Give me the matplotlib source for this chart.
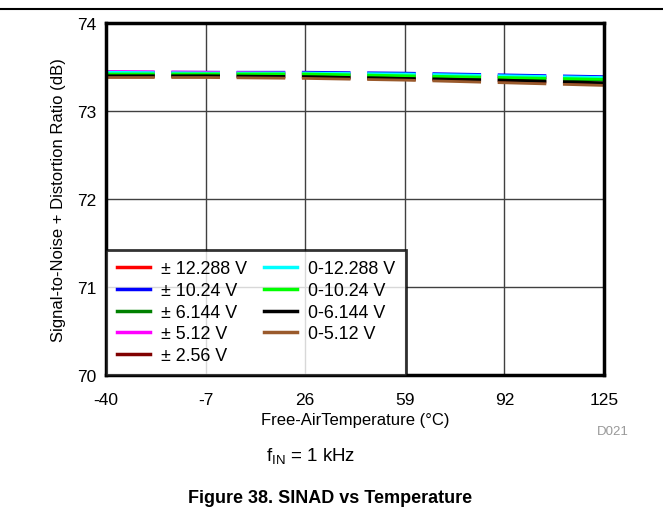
import matplotlib
matplotlib.use('Agg')
import matplotlib.pyplot as plt

plt.rcParams['font.family'] = ['Liberation Sans', 'DejaVu Sans']
plt.rcParams['lines.scale_dashes'] = False
plt.rcParams['axes.unicode_minus'] = False

# data
temps = [-40, -7, 26, 59, 92, 125]
labels = ['± 12.288 V', '± 10.24 V', '± 6.144 V', '± 5.12 V', '± 2.56 V',
          '0-12.288 V', '0-10.24 V', '0-6.144 V', '0-5.12 V']
colors = ['#FF0000', '#0000FF', '#008000', '#FF00FF', '#800000',
          '#00FFFF', '#00FF00', '#000000', '#9A5A2C']
bip_12288 = [73.43, 73.43, 73.42, 73.41, 73.39, 73.37]
bip_1024 = [73.44, 73.44, 73.44, 73.43, 73.41, 73.39]
bip_6144 = [73.42, 73.41, 73.41, 73.39, 73.37, 73.35]
bip_512 = [73.45, 73.44, 73.43, 73.41, 73.39, 73.37]
bip_256 = [73.39, 73.39, 73.38, 73.36, 73.34, 73.31]
uni_12288 = [73.44, 73.43, 73.43, 73.42, 73.40, 73.38]
uni_1024 = [73.42, 73.42, 73.42, 73.40, 73.38, 73.36]
uni_6144 = [73.40, 73.40, 73.39, 73.37, 73.35, 73.32]
uni_512 = [73.38, 73.38, 73.37, 73.35, 73.32, 73.29]
series = [bip_12288, bip_1024, bip_6144, bip_512, bip_256,
          uni_12288, uni_1024, uni_6144, uni_512]

fig = plt.figure(figsize=(6.63, 5.10), dpi=100)
ax = fig.add_axes([0.160, 0.263, 0.751, 0.690])

for vals, c, lab in zip(series, colors, labels):
    ax.plot(temps, vals, color=c, lw=2, dashes=(35, 12), label=lab)

ax.set_xlim(-40, 125)
ax.set_ylim(70, 74)
ax.set_xticks(temps)
ax.set_yticks([70, 71, 72, 73, 74])
ax.tick_params(length=0, labelsize=12.5)
ax.tick_params(axis='x', pad=12)
ax.tick_params(axis='y', pad=7)
ax.grid(True, color='#404040', lw=1)
for s in ax.spines.values():
    s.set_linewidth(2.5)

ax.set_xlabel('Free-AirTemperature (°C)', fontsize=12, labelpad=4)
ax.set_ylabel('Signal-to-Noise + Distortion Ratio (dB)', fontsize=12, labelpad=8)

proxies = [plt.Line2D([], [], color=c, lw=2.5) for c in colors]
leg = ax.legend(proxies, labels, ncol=2, loc='lower left', borderaxespad=0,
                fontsize=12.9, frameon=True, fancybox=False, handlelength=1.85,
                labelspacing=0.26, columnspacing=0.95, handletextpad=0.6,
                borderpad=0.6)
leg.get_frame().set_edgecolor('black')
leg.get_frame().set_linewidth(2)

fig.text(0.948, 0.147, 'D021', fontsize=9.5, color='#999999', ha='right')
fig.text(0.468, 0.095, r'f$_{\mathregular{IN}}$ = 1 kHz', fontsize=13.5, ha='center')
fig.text(0.498, 0.013, 'Figure 38. SINAD vs Temperature', fontsize=13,
         fontweight='bold', ha='center')
fig.add_artist(plt.Line2D([0, 1], [0.98, 0.98], color='black', lw=1.5))

fig.savefig('out.png', dpi=100)
